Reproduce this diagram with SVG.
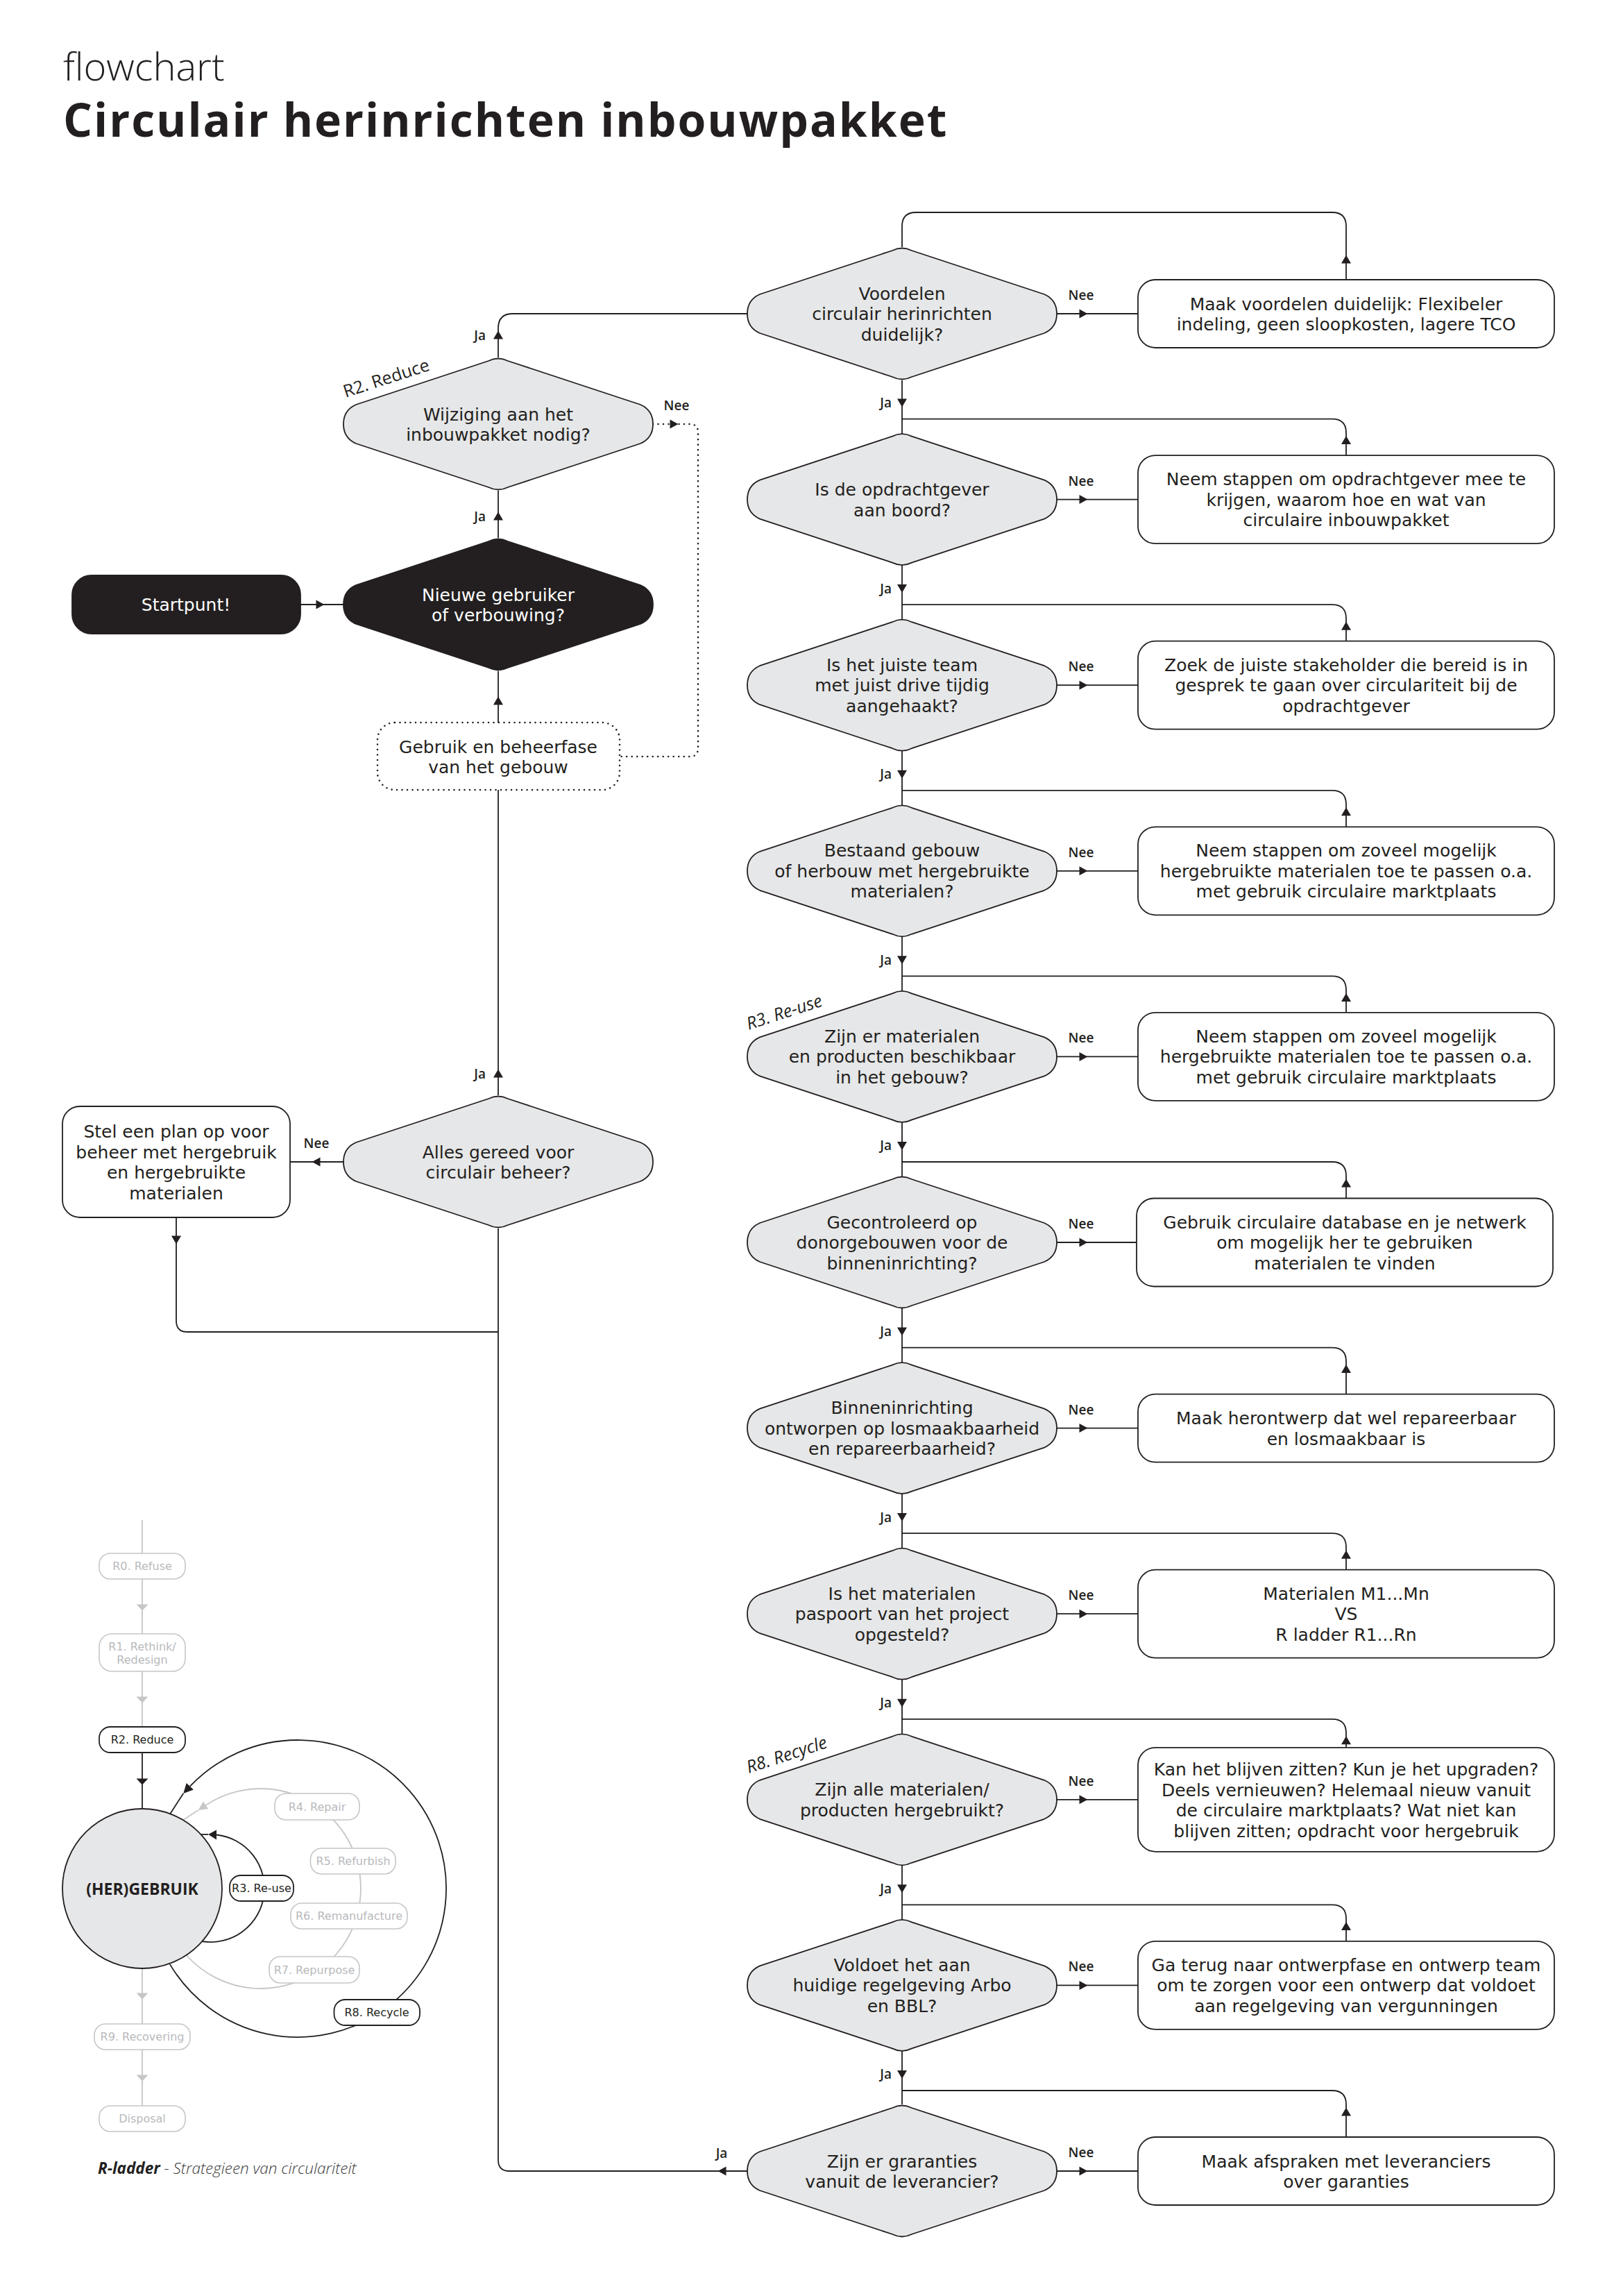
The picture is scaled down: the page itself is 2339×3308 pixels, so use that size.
<svg xmlns="http://www.w3.org/2000/svg" width="2339" height="3308" viewBox="0 0 2339 3308">
<style>
.ln{fill:none;stroke:#231f20;stroke-width:1.8}
.dot{fill:none;stroke:#231f20;stroke-width:2.6;stroke-dasharray:0 7.5;stroke-linecap:round}
.box{fill:#fff;stroke:#231f20;stroke-width:1.8}
.dia{fill:#e6e7e8;stroke:#231f20;stroke-width:1.8}
.blk{fill:#231f20;stroke:#231f20;stroke-width:1.8}
.ah{fill:#231f20}
.gah{fill:#c5c6c8}
.gln{fill:none;stroke:#c5c6c8;stroke-width:1.8}
.gbox{fill:#fff;stroke:#c5c6c8;stroke-width:1.6}
.kbox{fill:#fff;stroke:#231f20;stroke-width:1.8}
text{font-family:"Open Sans","Liberation Sans",sans-serif;fill:#231f20}
.t{font-family:"DejaVu Sans","Liberation Sans",sans-serif;font-size:25px;text-anchor:middle}
.w{fill:#fff}
.lbl{font-size:19px;font-weight:600}
.mid{text-anchor:middle}
.end{text-anchor:end}
.rl{font-size:25px;font-weight:500}
.lt{font-family:"DejaVu Sans","Liberation Sans",sans-serif;font-size:16px;text-anchor:middle;fill:#b8b9bc}
.lk{font-family:"DejaVu Sans","Liberation Sans",sans-serif;font-size:16px;text-anchor:middle;fill:#231f20}
</style>
<defs>
<path id="dia" d="M-14,-91 Q0,-98 14,-91 L205,-28 Q223,-20 223,0 Q223,20 205,28 L14,91 Q0,98 -14,91 L-205,28 Q-223,20 -223,0 Q-223,-20 -205,-28 Z"/>
<path id="ad" d="M-7,-5.5 L7,-5.5 L0,6.5 Z"/>
<path id="au" d="M-7,5.5 L7,5.5 L0,-6.5 Z"/>
<path id="ar" d="M-5.5,-6.5 L-5.5,6.5 L6.5,0 Z"/>
<path id="al" d="M5.5,-6.5 L5.5,6.5 L-6.5,0 Z"/>
<path id="lad" d="M-8.5,-4.5 L8.5,-4.5 L0,4.5 Z"/>
</defs>
<rect width="2339" height="3308" fill="#fff"/>

<g id="title">
<text x="91" y="116" font-size="56" font-weight="300">flowchart</text>
<text x="91" y="197" font-size="66" font-weight="700" letter-spacing="2">Circulair herinrichten inbouwpakket</text>
</g>

<g id="connectors">
<path class="ln" d="M1300,548 V3032"/>
<path class="ln" d="M1300,356 V326 Q1300,306 1320,306 H1920 Q1940,306 1940,326 V403"/>
<path class="ln" d="M1300,603.6 H1920 Q1940,603.6 1940,623.6 V656.1"/>
<path class="ln" d="M1300,871.2 H1920 Q1940,871.2 1940,891.2 V923.7"/>
<path class="ln" d="M1300,1138.8 H1920 Q1940,1138.8 1940,1158.8 V1191.3"/>
<path class="ln" d="M1300,1406.4 H1920 Q1940,1406.4 1940,1426.4 V1458.9"/>
<path class="ln" d="M1300,1674 H1920 Q1940,1674 1940,1694 V1726.5"/>
<path class="ln" d="M1300,1941.6 H1920 Q1940,1941.6 1940,1961.6 V2008.6"/>
<path class="ln" d="M1300,2209.2 H1920 Q1940,2209.2 1940,2229.2 V2261.7"/>
<path class="ln" d="M1300,2476.8 H1920 Q1940,2476.8 1940,2496.8 V2517.8"/>
<path class="ln" d="M1300,2744.4 H1920 Q1940,2744.4 1940,2764.4 V2796.9"/>
<path class="ln" d="M1300,3012 H1920 Q1940,3012 1940,3032 V3079"/>
<path class="ln" d="M1523,452 H1640 M1523,719.6 H1640 M1523,987.2 H1640 M1523,1254.8 H1640 M1523,1522.4 H1640 M1523,1790 H1640 M1523,2057.6 H1640 M1523,2325.2 H1640 M1523,2592.8 H1640 M1523,2860.4 H1640 M1523,3128 H1640"/>
<use href="#au" class="ah" x="1940" y="374"/>
<use href="#au" class="ah" x="1940" y="634.6"/>
<use href="#au" class="ah" x="1940" y="902.2"/>
<use href="#au" class="ah" x="1940" y="1169.8"/>
<use href="#au" class="ah" x="1940" y="1437.4"/>
<use href="#au" class="ah" x="1940" y="1705"/>
<use href="#au" class="ah" x="1940" y="1972.6"/>
<use href="#au" class="ah" x="1940" y="2240.2"/>
<use href="#au" class="ah" x="1940" y="2507.8"/>
<use href="#au" class="ah" x="1940" y="2775.4"/>
<use href="#au" class="ah" x="1940" y="3043"/>
<use href="#ar" class="ah" x="1561" y="452"/>
<use href="#ar" class="ah" x="1561" y="719.6"/>
<use href="#ar" class="ah" x="1561" y="987.2"/>
<use href="#ar" class="ah" x="1561" y="1254.8"/>
<use href="#ar" class="ah" x="1561" y="1522.4"/>
<use href="#ar" class="ah" x="1561" y="1790"/>
<use href="#ar" class="ah" x="1561" y="2057.6"/>
<use href="#ar" class="ah" x="1561" y="2325.2"/>
<use href="#ar" class="ah" x="1561" y="2592.8"/>
<use href="#ar" class="ah" x="1561" y="2860.4"/>
<use href="#ar" class="ah" x="1561" y="3128"/>
<use href="#ad" class="ah" x="1300" y="580"/>
<use href="#ad" class="ah" x="1300" y="847.6"/>
<use href="#ad" class="ah" x="1300" y="1115.2"/>
<use href="#ad" class="ah" x="1300" y="1382.8"/>
<use href="#ad" class="ah" x="1300" y="1650.4"/>
<use href="#ad" class="ah" x="1300" y="1918"/>
<use href="#ad" class="ah" x="1300" y="2185.6"/>
<use href="#ad" class="ah" x="1300" y="2453.2"/>
<use href="#ad" class="ah" x="1300" y="2720.8"/>
<use href="#ad" class="ah" x="1300" y="2988.4"/>
<g class="lbl">
<text class="end" x="1285" y="587">Ja</text>
<text class="end" x="1285" y="854.6">Ja</text>
<text class="end" x="1285" y="1122.2">Ja</text>
<text class="end" x="1285" y="1389.8">Ja</text>
<text class="end" x="1285" y="1657.4">Ja</text>
<text class="end" x="1285" y="1925">Ja</text>
<text class="end" x="1285" y="2192.6">Ja</text>
<text class="end" x="1285" y="2460.2">Ja</text>
<text class="end" x="1285" y="2727.8">Ja</text>
<text class="end" x="1285" y="2995.4">Ja</text>
<text class="mid" x="1558" y="432">Nee</text>
<text class="mid" x="1558" y="699.6">Nee</text>
<text class="mid" x="1558" y="967.2">Nee</text>
<text class="mid" x="1558" y="1234.8">Nee</text>
<text class="mid" x="1558" y="1502.4">Nee</text>
<text class="mid" x="1558" y="1770">Nee</text>
<text class="mid" x="1558" y="2037.6">Nee</text>
<text class="mid" x="1558" y="2305.2">Nee</text>
<text class="mid" x="1558" y="2572.8">Nee</text>
<text class="mid" x="1558" y="2840.4">Nee</text>
<text class="mid" x="1558" y="3108">Nee</text>
</g>
<path class="ln" d="M433,871 H495"/>
<use href="#ar" class="ah" x="461" y="871"/>
<path class="ln" d="M718,1041 V967"/>
<use href="#au" class="ah" x="718" y="1010"/>
<path class="ln" d="M718,775 V707"/>
<use href="#au" class="ah" x="718" y="744"/>
<path class="ln" d="M718,515 V473 Q718,452 739,452 H1077"/>
<use href="#au" class="ah" x="718" y="483"/>
<path class="dot" d="M941,611 H994 Q1006,611 1006,623 V1078 Q1006,1090 994,1090 H893"/>
<use href="#ar" class="ah" x="971" y="611"/>
<path class="ln" d="M718,1138 V1578"/>
<use href="#au" class="ah" x="718" y="1547"/>
<path class="ln" d="M495,1674 H418"/>
<use href="#al" class="ah" x="456" y="1674"/>
<path class="ln" d="M254,1754 V1903 Q254,1919 270,1919 H718"/>
<use href="#ad" class="ah" x="254" y="1786"/>
<path class="ln" d="M1077,3128 H734 Q718,3128 718,3112 V1770"/>
<use href="#al" class="ah" x="1041" y="3128"/>
<g class="lbl">
<text class="end" x="700" y="490">Ja</text>
<text class="end" x="700" y="751">Ja</text>
<text class="end" x="700" y="1554">Ja</text>
<text class="mid" x="975" y="591">Nee</text>
<text class="mid" x="456" y="1654">Nee</text>
<text class="mid" x="1040" y="3109">Ja</text>
</g>
</g>

<g id="startpunt">
<rect class="blk" x="104" y="829" width="329" height="84" rx="28"/>
<text class="t w" x="268" y="880">Startpunt!</text>
</g>
<g id="nieuwe-gebruiker">
<use href="#dia" class="blk" x="718" y="871"/>
<text class="t w" x="718" y="865.5">Nieuwe gebruiker<tspan x="718" dy="29.5">of verbouwing?</tspan></text>
</g>
<g id="wijziging">
<use href="#dia" class="dia" x="718" y="611"/>
<text class="t" x="718" y="605.5">Wijziging aan het<tspan x="718" dy="29.5">inbouwpakket nodig?</tspan></text>
<text class="rl" x="498" y="573" transform="rotate(-18 498 573)">R2. Reduce</text>
</g>
<g id="gebruik-beheerfase">
<rect class="dot" x="544" y="1041" width="349" height="97" rx="25"/>
<text class="t" x="718" y="1084.5">Gebruik en beheerfase<tspan x="718" dy="29.5">van het gebouw</tspan></text>
</g>
<g id="alles-gereed">
<use href="#dia" class="dia" x="718" y="1674"/>
<text class="t" x="718" y="1668.5">Alles gereed voor<tspan x="718" dy="29.5">circulair beheer?</tspan></text>
</g>
<g id="stel-plan">
<rect class="box" x="90" y="1594" width="328" height="160" rx="25"/>
<text class="t" x="254" y="1639">Stel een plan op voor<tspan x="254" dy="29.5">beheer met hergebruik</tspan><tspan x="254" dy="29.5">en hergebruikte</tspan><tspan x="254" dy="29.5">materialen</tspan></text>
</g>

<g id="d0">
<use href="#dia" class="dia" x="1300" y="452"/>
<text class="t" x="1300" y="431.5">Voordelen<tspan x="1300" dy="29.5">circulair herinrichten</tspan><tspan x="1300" dy="29.5">duidelijk?</tspan></text>
</g>
<g id="d1">
<use href="#dia" class="dia" x="1300" y="719.6"/>
<text class="t" x="1300" y="714.1">Is de opdrachtgever<tspan x="1300" dy="29.5">aan boord?</tspan></text>
</g>
<g id="d2">
<use href="#dia" class="dia" x="1300" y="987.2"/>
<text class="t" x="1300" y="966.7">Is het juiste team<tspan x="1300" dy="29.5">met juist drive tijdig</tspan><tspan x="1300" dy="29.5">aangehaakt?</tspan></text>
</g>
<g id="d3">
<use href="#dia" class="dia" x="1300" y="1254.8"/>
<text class="t" x="1300" y="1234.3">Bestaand gebouw<tspan x="1300" dy="29.5">of herbouw met hergebruikte</tspan><tspan x="1300" dy="29.5">materialen?</tspan></text>
</g>
<g id="d4">
<use href="#dia" class="dia" x="1300" y="1522.4"/>
<text class="t" x="1300" y="1501.9">Zijn er materialen<tspan x="1300" dy="29.5">en producten beschikbaar</tspan><tspan x="1300" dy="29.5">in het gebouw?</tspan></text>
<text class="rl" font-style="italic" x="1079" y="1484" transform="rotate(-18 1079 1484)">R3. Re-use</text>
</g>
<g id="d5">
<use href="#dia" class="dia" x="1300" y="1790"/>
<text class="t" x="1300" y="1769.5">Gecontroleerd op<tspan x="1300" dy="29.5">donorgebouwen voor de</tspan><tspan x="1300" dy="29.5">binneninrichting?</tspan></text>
</g>
<g id="d6">
<use href="#dia" class="dia" x="1300" y="2057.6"/>
<text class="t" x="1300" y="2037.1">Binneninrichting<tspan x="1300" dy="29.5">ontworpen op losmaakbaarheid</tspan><tspan x="1300" dy="29.5">en repareerbaarheid?</tspan></text>
</g>
<g id="d7">
<use href="#dia" class="dia" x="1300" y="2325.2"/>
<text class="t" x="1300" y="2304.7">Is het materialen<tspan x="1300" dy="29.5">paspoort van het project</tspan><tspan x="1300" dy="29.5">opgesteld?</tspan></text>
</g>
<g id="d8">
<use href="#dia" class="dia" x="1300" y="2592.8"/>
<text class="t" x="1300" y="2587.3">Zijn alle materialen/<tspan x="1300" dy="29.5">producten hergebruikt?</tspan></text>
<text class="rl" font-style="italic" x="1079" y="2555" transform="rotate(-18 1079 2555)">R8. Recycle</text>
</g>
<g id="d9">
<use href="#dia" class="dia" x="1300" y="2860.4"/>
<text class="t" x="1300" y="2839.9">Voldoet het aan<tspan x="1300" dy="29.5">huidige regelgeving Arbo</tspan><tspan x="1300" dy="29.5">en BBL?</tspan></text>
</g>
<g id="d10">
<use href="#dia" class="dia" x="1300" y="3128"/>
<text class="t" x="1300" y="3122.5">Zijn er graranties<tspan x="1300" dy="29.5">vanuit de leverancier?</tspan></text>
</g>

<g id="b0">
<rect class="box" x="1640" y="403" width="600" height="98" rx="25"/>
<text class="t" x="1940" y="446.5">Maak voordelen duidelijk: Flexibeler<tspan x="1940" dy="29.5">indeling, geen sloopkosten, lagere TCO</tspan></text>
</g>
<g id="b1">
<rect class="box" x="1640" y="656.1" width="600" height="127" rx="25"/>
<text class="t" x="1940" y="699.1">Neem stappen om opdrachtgever mee te<tspan x="1940" dy="29.5">krijgen, waarom hoe en wat van</tspan><tspan x="1940" dy="29.5">circulaire inbouwpakket</tspan></text>
</g>
<g id="b2">
<rect class="box" x="1640" y="923.7" width="600" height="127" rx="25"/>
<text class="t" x="1940" y="966.7">Zoek de juiste stakeholder die bereid is in<tspan x="1940" dy="29.5">gesprek te gaan over circulariteit bij de</tspan><tspan x="1940" dy="29.5">opdrachtgever</tspan></text>
</g>
<g id="b3">
<rect class="box" x="1640" y="1191.3" width="600" height="127" rx="25"/>
<text class="t" x="1940" y="1234.3">Neem stappen om zoveel mogelijk<tspan x="1940" dy="29.5">hergebruikte materialen toe te passen o.a.</tspan><tspan x="1940" dy="29.5">met gebruik circulaire marktplaats</tspan></text>
</g>
<g id="b4">
<rect class="box" x="1640" y="1458.9" width="600" height="127" rx="25"/>
<text class="t" x="1940" y="1501.9">Neem stappen om zoveel mogelijk<tspan x="1940" dy="29.5">hergebruikte materialen toe te passen o.a.</tspan><tspan x="1940" dy="29.5">met gebruik circulaire marktplaats</tspan></text>
</g>
<g id="b5">
<rect class="box" x="1638" y="1726.5" width="600" height="127" rx="25"/>
<text class="t" x="1938" y="1769.5">Gebruik circulaire database en je netwerk<tspan x="1938" dy="29.5">om mogelijk her te gebruiken</tspan><tspan x="1938" dy="29.5">materialen te vinden</tspan></text>
</g>
<g id="b6">
<rect class="box" x="1640" y="2008.6" width="600" height="98" rx="25"/>
<text class="t" x="1940" y="2052.1">Maak herontwerp dat wel repareerbaar<tspan x="1940" dy="29.5">en losmaakbaar is</tspan></text>
</g>
<g id="b7">
<rect class="box" x="1640" y="2261.7" width="600" height="127" rx="25"/>
<text class="t" x="1940" y="2304.7">Materialen M1...Mn<tspan x="1940" dy="29.5">VS</tspan><tspan x="1940" dy="29.5">R ladder R1...Rn</tspan></text>
</g>
<g id="b8">
<rect class="box" x="1640" y="2517.8" width="600" height="150" rx="25"/>
<text class="t" x="1940" y="2558">Kan het blijven zitten? Kun je het upgraden?<tspan x="1940" dy="29.5">Deels vernieuwen? Helemaal nieuw vanuit</tspan><tspan x="1940" dy="29.5">de circulaire marktplaats? Wat niet kan</tspan><tspan x="1940" dy="29.5">blijven zitten; opdracht voor hergebruik</tspan></text>
</g>
<g id="b9">
<rect class="box" x="1640" y="2796.9" width="600" height="127" rx="25"/>
<text class="t" x="1940" y="2839.9">Ga terug naar ontwerpfase en ontwerp team<tspan x="1940" dy="29.5">om te zorgen voor een ontwerp dat voldoet</tspan><tspan x="1940" dy="29.5">aan regelgeving van vergunningen</tspan></text>
</g>
<g id="b10">
<rect class="box" x="1640" y="3079" width="600" height="98" rx="25"/>
<text class="t" x="1940" y="3122.5">Maak afspraken met leveranciers<tspan x="1940" dy="29.5">over garanties</tspan></text>
</g>

<g id="r-ladder">
<path class="gln" d="M205,2190 V2238 M205,2275 V2354 M205,2408 V2488 M205,2836 V2916 M205,2953 V3034"/>
<path class="ln" d="M205,2525 V2607"/>
<use href="#lad" class="gah" x="205" y="2316"/>
<use href="#lad" class="gah" x="205" y="2449"/>
<use href="#lad" class="ah" x="205" y="2567"/>
<use href="#lad" class="gah" x="205" y="2876"/>
<use href="#lad" class="gah" x="205" y="2994"/>
<path class="gln" d="M268.6,2817 A144,144 0 1 0 296.5,2600.9"/>
<polygon class="gah" points="300.1,2606.3 292.9,2595.5 285.7,2608.1"/>
<path class="gln" d="M285.7,2608.1 L264.6,2621.7"/>
<path class="ln" d="M244.8,2829.9 A214,214 0 1 0 273.8,2573.7"/>
<polygon class="ah" points="278.9,2578.5 268.7,2568.9 264.2,2583.9"/>
<path class="ln" d="M264.2,2583.9 L245.4,2613"/>
<path class="ln" d="M290.9,2797 A77.5,77.5 0 1 0 312,2643.5"/>
<polygon class="ah" points="312,2636.5 312,2650.5 300,2643"/>
<path class="ln" d="M300,2643 L289,2643"/>
<g id="hergebruik">
<circle cx="205" cy="2721" r="115" fill="#e6e7e8" stroke="#231f20" stroke-width="1.8"/>
<text x="205" y="2730" font-size="23" font-weight="700" text-anchor="middle">(HER)GEBRUIK</text>
</g>
<g id="r0"><rect class="gbox" x="143" y="2238" width="124" height="37" rx="16"/><text class="lt" x="205" y="2262">R0. Refuse</text></g>
<g id="r1"><rect class="gbox" x="143" y="2354" width="124" height="54" rx="18"/><text class="lt" x="205" y="2378">R1. Rethink/<tspan x="205" dy="19">Redesign</tspan></text></g>
<g id="r2"><rect class="kbox" x="143" y="2488" width="124" height="37" rx="16"/><text class="lk" x="205" y="2512">R2. Reduce</text></g>
<g id="r3"><rect class="kbox" x="331" y="2702" width="92" height="37" rx="16"/><text class="lk" x="377" y="2726" font-size="14.5">R3. Re-use</text></g>
<g id="r4"><rect class="gbox" x="396" y="2584" width="122" height="38" rx="16"/><text class="lt" x="457" y="2608.5">R4. Repair</text></g>
<g id="r5"><rect class="gbox" x="447.5" y="2663" width="122.5" height="37" rx="16"/><text class="lt" x="509" y="2687">R5. Refurbish</text></g>
<g id="r6"><rect class="gbox" x="419" y="2742" width="168" height="37" rx="16"/><text class="lt" x="503" y="2766">R6. Remanufacture</text></g>
<g id="r7"><rect class="gbox" x="388" y="2819" width="130" height="38" rx="16"/><text class="lt" x="453" y="2843.5">R7. Repurpose</text></g>
<g id="r8"><rect class="kbox" x="481.5" y="2881" width="123.5" height="37" rx="16"/><text class="lk" x="543" y="2905">R8. Recycle</text></g>
<g id="r9"><rect class="gbox" x="136" y="2916" width="138" height="37" rx="16"/><text class="lt" x="205" y="2940">R9. Recovering</text></g>
<g id="disposal"><rect class="gbox" x="143" y="3034" width="124" height="37" rx="16"/><text class="lt" x="205" y="3058">Disposal</text></g>
<text x="141" y="3132" font-size="22.5" font-style="italic"><tspan font-weight="700">R-ladder</tspan><tspan font-weight="300" fill="#3a3a3a"> - Strategieen van circulariteit</tspan></text>
</g>
</svg>
